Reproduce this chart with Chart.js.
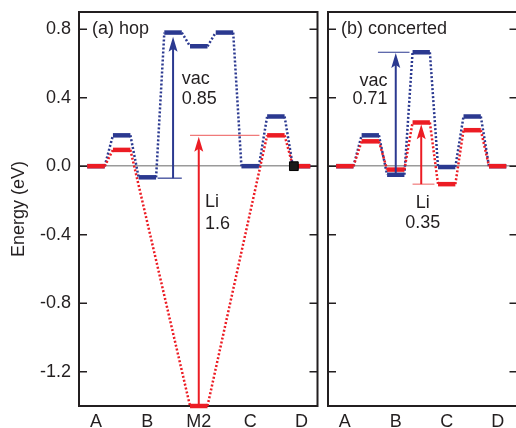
<!DOCTYPE html>
<html>
<head>
<meta charset="utf-8">
<script src="https://cdn.jsdelivr.net/npm/chart.js@4/dist/chart.umd.min.js"></script>
<style>
html, body { margin: 0; padding: 0; background: #fff; overflow: hidden; }
#wrap { position: relative; width: 516px; height: 428px; overflow: hidden; }
#left { position: absolute; left: 0; top: 0; }
#right { position: absolute; left: 320px; top: 0; }
</style>
</head>
<body>
<div id="wrap">
  <canvas id="left" width="320" height="428"></canvas>
  <canvas id="right" width="200" height="428"></canvas>
</div>
<script>
// (a) hop
let hopSites = ["A", "B", "M2", "C", "D"];
let hopVacX = [0, 0.5, 1, 1.5, 2, 2.5, 3, 3.5, 4];
let hopVacE = [0, 0.18, -0.065, 0.78, 0.70, 0.78, 0, 0.29, 0];
let hopLiX = [0, 0.5, 2, 3.5, 4];
let hopLiE = [0, 0.095, -1.4, 0.18, 0];
let hopMarkX = [3.85];
let hopMarkE = [0];

// (b) concerted
let conSites = ["A", "B", "C", "D"];
let conX = [0, 0.5, 1, 1.5, 2, 2.5, 3];
let conVacE = [0, 0.18, -0.05, 0.665, -0.005, 0.29, 0];
let conLiE = [0, 0.145, -0.02, 0.255, -0.105, 0.21, 0];

let energyTicks = [-1.2, -0.8, -0.4, 0, 0.4, 0.8];

// barrier arrows: x, from, to
let hopVacArrow = [1.5, -0.07, 0.755];
let hopLiArrow = [2.0, -1.4, 0.172];
let conVacArrow = [1.0, -0.05, 0.66];
let conLiArrow = [1.5, -0.105, 0.245];
// reference lines: x0, x1, energy
let hopVacRef = [1.2, 1.67, -0.07];
let hopLiRef = [1.83, 3.18, 0.18];
let conVacRef = [0.65, 1.27, 0.665];
let conLiRef = [1.33, 1.76, -0.105];

const BLUE = "#2b3990";
const RED = "#ec1c24";
const INK = "#231f20";
const FONT = "'Liberation Sans', Arial, Helvetica, sans-serif";
const HALF = 0.17;

function levels(xs, es) {
    let pts = [];
    for (let i = 0; i < xs.length; i++) {
        pts.push({x: xs[i] - HALF, y: es[i]});
        pts.push({x: xs[i] + HALF, y: es[i]});
    }
    return pts;
}

function levelSet(xs, es, color) {
    return {
        data: levels(xs, es),
        showLine: true,
        borderColor: color,
        backgroundColor: color,
        pointRadius: 0,
        borderCapStyle: "butt",
        borderWidth: 4,
        tension: 0,
        clip: false,
        segment: {
            borderWidth: c => c.p0DataIndex % 2 === 0 ? 4.5 : 2.5,
            borderDash: c => c.p0DataIndex % 2 === 0 ? [] : [2, 2]
        }
    };
}

function drawArrow(ctx, px, y0, y1, color) {
    ctx.strokeStyle = color;
    ctx.fillStyle = color;
    ctx.lineWidth = 2;
    ctx.beginPath();
    ctx.moveTo(px, y0);
    ctx.lineTo(px, y1 + 10);
    ctx.stroke();
    ctx.beginPath();
    ctx.moveTo(px, y1);
    ctx.lineTo(px - 4.5, y1 + 15);
    ctx.lineTo(px, y1 + 12);
    ctx.lineTo(px + 4.5, y1 + 15);
    ctx.closePath();
    ctx.fill();
}

let energyPlugin = {
    id: "energy",
    beforeDatasetsDraw(chart, args, opts) {
        let ctx = chart.ctx, a = chart.chartArea, y = chart.scales.y;
        ctx.save();
        ctx.strokeStyle = INK;
        ctx.lineWidth = 1.5;
        energyTicks.forEach(v => {
            let py = y.getPixelForValue(v);
            ctx.beginPath();
            ctx.moveTo(a.left, py); ctx.lineTo(a.left + 8, py);
            ctx.moveTo(a.right - 8, py); ctx.lineTo(a.right, py);
            ctx.stroke();
        });
        ctx.lineWidth = 2;
        ctx.strokeRect(a.left, a.top, a.right - a.left, a.bottom - a.top);
        ctx.restore();
    },
    afterDatasetsDraw(chart, args, opts) {
        let ctx = chart.ctx, a = chart.chartArea;
        let xs = chart.scales.x, ys = chart.scales.y;
        ctx.save();
        opts.refs.forEach(r => {
            ctx.strokeStyle = r.color;
            ctx.lineWidth = 1.2;
            ctx.beginPath();
            ctx.moveTo(xs.getPixelForValue(r.v[0]), ys.getPixelForValue(r.v[2]));
            ctx.lineTo(xs.getPixelForValue(r.v[1]), ys.getPixelForValue(r.v[2]));
            ctx.stroke();
        });
        opts.arrows.forEach(r => {
            drawArrow(ctx, xs.getPixelForValue(r.v[0]), ys.getPixelForValue(r.v[1]),
                ys.getPixelForValue(r.v[2]), r.color);
        });
        ctx.fillStyle = INK;
        ctx.font = "18px " + FONT;
        ctx.textBaseline = "alphabetic";
        opts.texts.forEach(t => {
            ctx.textAlign = t.align;
            ctx.fillText(t.text, xs.getPixelForValue(t.x), ys.getPixelForValue(t.y));
        });
        ctx.textAlign = "left";
        ctx.fillText(opts.panel, a.left + 13, a.top + 22);
        ctx.restore();
    }
};

function makeOptions(sites, xMax, yWidth, showLabels, notes) {
    return {
        responsive: false,
        animation: false,
        events: [],
        layout: {autoPadding: false, padding: {top: 12, right: 2.5, left: 0, bottom: 0}},
        plugins: {
            legend: {display: false},
            tooltip: {enabled: false},
            energy: notes
        },
        scales: {
            x: {
                type: "linear",
                min: -0.33,
                max: xMax,
                grid: {display: false, drawTicks: false},
                border: {display: false},
                afterBuildTicks: s => { s.ticks = sites.map((n, i) => ({value: i})); },
                afterFit: s => {
                    s.height = 22;
                    s.paddingLeft = 0;
                    s.paddingRight = 0;
                },
                ticks: {
                    padding: 5,
                    color: INK,
                    font: {family: FONT, size: 18},
                    maxRotation: 0,
                    autoSkip: false,
                    callback: (v, i) => sites[i]
                }
            },
            y: {
                min: -1.4,
                max: 0.9,
                border: {display: false},
                grid: {
                    drawTicks: false,
                    lineWidth: 1.5,
                    color: c => c.tick && c.tick.value === 0 ? "#9a9a9a" : "rgba(0,0,0,0)"
                },
                afterBuildTicks: s => { s.ticks = energyTicks.map(v => ({value: v})); },
                afterFit: s => {
                    s.width = yWidth;
                    s.paddingTop = 0;
                    s.paddingBottom = 0;
                },
                title: {
                    display: showLabels,
                    text: "Energy (eV)",
                    color: INK,
                    font: {family: FONT, size: 18},
                    padding: {top: 8, bottom: 0}
                },
                ticks: {
                    display: showLabels,
                    padding: 8,
                    color: INK,
                    font: {family: FONT, size: 18},
                    callback: v => v.toFixed(1)
                }
            }
        }
    };
}

let hopChart = new Chart(document.getElementById("left").getContext("2d"), {
    type: "scatter",
    data: {
        datasets: [
            {
                data: hopMarkX.map((x, i) => ({x: x, y: hopMarkE[i]})),
                pointStyle: "rect",
                pointRadius: 6.2,
                backgroundColor: "#1a1a1a",
                borderColor: "#000",
                borderWidth: 1,
                clip: false
            },
            levelSet(hopLiX, hopLiE, RED),
            levelSet(hopVacX, hopVacE, BLUE)
        ]
    },
    options: makeOptions(hopSites, 4.31, 79, true, {
        panel: "(a) hop",
        refs: [{v: hopVacRef, color: BLUE}, {v: hopLiRef, color: "#f07a7a"}],
        arrows: [{v: hopVacArrow, color: BLUE}, {v: hopLiArrow, color: RED}],
        texts: [
            {text: "vac", x: 1.67, y: 0.479, align: "left"},
            {text: "0.85", x: 1.67, y: 0.362, align: "left"},
            {text: "Li", x: 2.12, y: -0.24, align: "left"},
            {text: "1.6", x: 2.12, y: -0.368, align: "left"}
        ]
    }),
    plugins: [energyPlugin]
});

let conChart = new Chart(document.getElementById("right").getContext("2d"), {
    type: "scatter",
    data: {
        datasets: [
            levelSet(conX, conLiE, RED),
            levelSet(conX, conVacE, BLUE)
        ]
    },
    options: makeOptions(conSites, 3.39, 8, false, {
        panel: "(b) concerted",
        refs: [{v: conVacRef, color: BLUE}, {v: conLiRef, color: "#f07a7a"}],
        arrows: [{v: conVacArrow, color: BLUE}, {v: conLiArrow, color: RED}],
        texts: [
            {text: "vac", x: 0.84, y: 0.467, align: "right"},
            {text: "0.71", x: 0.84, y: 0.362, align: "right"},
            {text: "Li", x: 1.53, y: -0.245, align: "center"},
            {text: "0.35", x: 1.53, y: -0.362, align: "center"}
        ]
    }),
    plugins: [energyPlugin]
});
</script>
</body>
</html>
